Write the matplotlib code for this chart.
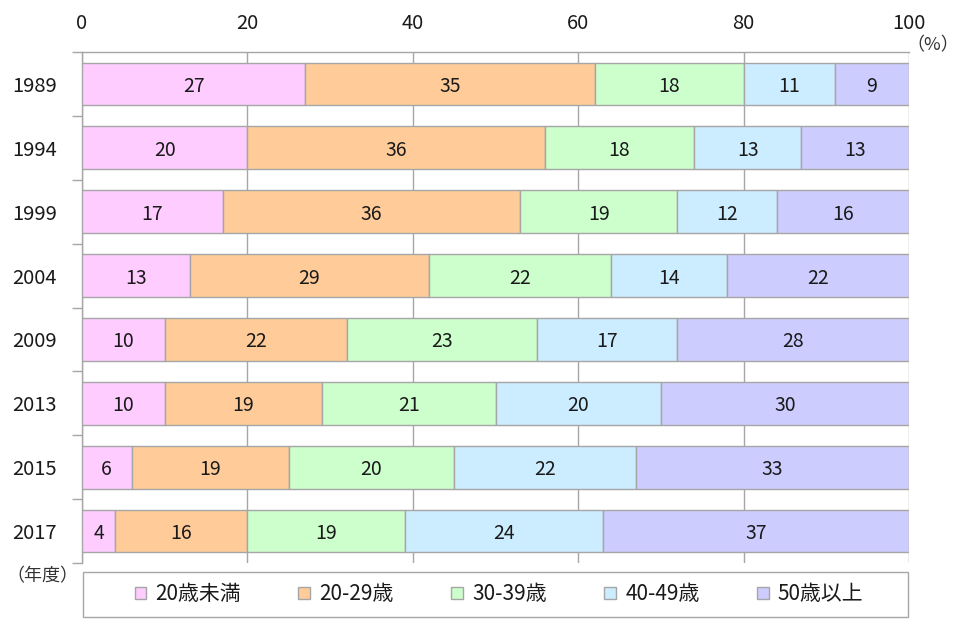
import matplotlib
matplotlib.use("Agg")
import matplotlib.pyplot as plt
import numpy as np

plt.rcParams['font.family'] = ['Noto Sans CJK JP', 'DejaVu Sans']

years = ["1989", "1994", "1999", "2004", "2009", "2013", "2015", "2017"]
series = ["20歳未満", "20-29歳", "30-39歳", "40-49歳", "50歳以上"]
under20 = [27, 20, 17, 13, 10, 10, 6, 4]
age20s = [35, 36, 36, 29, 22, 19, 19, 16]
age30s = [18, 18, 19, 22, 23, 21, 20, 19]
age40s = [11, 13, 12, 14, 17, 20, 22, 24]
over50 = [9, 13, 16, 22, 28, 30, 33, 37]
xticks = [0, 20, 40, 60, 80, 100]
colors = ["#FFCCFF", "#FFCC99", "#CCFFCC", "#CCECFF", "#CCCCFF"]

data = [under20, age20s, age30s, age40s, over50]

fig = plt.figure(figsize=(9.6, 6.27), dpi=100)
ax = fig.add_axes([82/960, 1-563/627, (909-82)/960, (563-52)/627])

y = np.arange(len(years))
left = np.zeros(len(years))
edge = "#A6A6A6"
txt = "#1a1a1a"
for vals, name, col in zip(data, series, colors):
    vals = np.array(vals, dtype=float)
    ax.barh(y, vals, left=left, height=0.67, color=col, edgecolor=edge,
            linewidth=1.0, label=name, zorder=3)
    for xi, (l, v) in enumerate(zip(left, vals)):
        ax.text(l + v/2, xi, f"{int(v)}", ha="center", va="center_baseline",
                fontsize=14, color=txt, zorder=4)
    left += vals

ax.set_xlim(0, 100)
ax.set_ylim(len(years) - 0.5, -0.5)
ax.xaxis.set_ticks_position('top')
ax.set_xticks(xticks)
ax.set_xticklabels([str(t) for t in xticks], fontsize=14.5, color=txt)
ax.tick_params(axis='x', which='both', length=0, pad=13, top=True, bottom=False)
ax.set_yticks(y)
ax.set_yticklabels(years, fontsize=14.5, color=txt, va="center_baseline")
ax.set_yticks(np.arange(len(years) + 1) - 0.5, minor=True)
ax.tick_params(axis='y', which='major', length=0, pad=18)
ax.tick_params(axis='y', which='minor', length=7, color=edge, width=1)
ax.grid(axis='x', color=edge, linewidth=1, zorder=0)
for s in ["right", "bottom"]:
    ax.spines[s].set_visible(False)
for s in ["top", "left"]:
    ax.spines[s].set_color(edge)
    ax.spines[s].set_linewidth(1)
ax.spines["top"].set_zorder(5)

fig.text(959/960, 1-45/627, "（%）", ha="right", va="center", fontsize=13, color="#333333")
fig.text(6/960, 1-576/627, "（年度）", ha="left", va="center", fontsize=13, color="#333333")

leg = fig.legend(loc="center", bbox_to_anchor=(499/960, 1-594.5/627), ncol=5,
                 fontsize=15, frameon=False,
                 handlelength=0.56, handleheight=0.56, handletextpad=0.45,
                 columnspacing=2.75, borderpad=0.5, borderaxespad=0)
for t in leg.get_texts():
    t.set_color(txt)
for h in leg.legend_handles:
    h.set_edgecolor(edge)
    h.set_linewidth(1)

# legend frame spanning the plot width
frame = plt.Rectangle((83/960, 1-617/627), (908-83)/960, 45/627, transform=fig.transFigure,
                      fill=False, edgecolor=edge, linewidth=1)
fig.add_artist(frame)

fig.savefig("out.png", dpi=100)
